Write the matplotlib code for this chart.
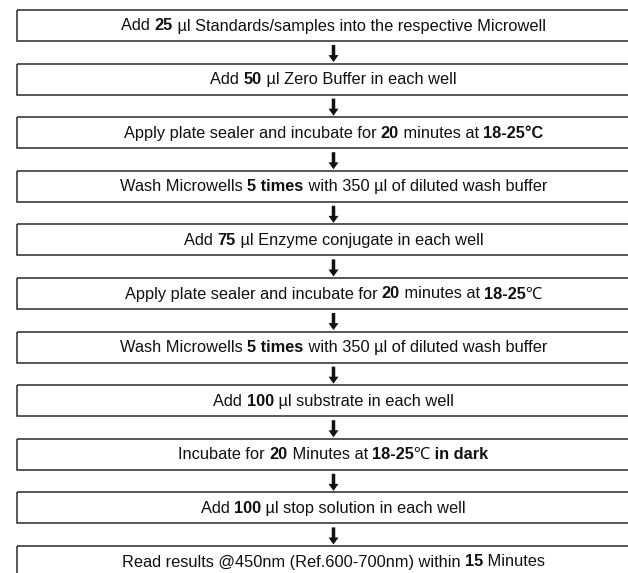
import matplotlib.pyplot as plt
from matplotlib.patches import Rectangle

# protocol steps, each one a list of (text, is_bold) pieces
steps = [
    [("Add ", False), ("25", True), (" µl Standards/samples into the respective Microwell", False)],
    [("Add ", False), ("50", True), (" µl Zero Buffer in each well", False)],
    [("Apply plate sealer and incubate for ", False), ("20", True), (" minutes at ", False), ("18-25°C", True)],
    [("Wash Microwells ", False), ("5 times", True), (" with 350 µl of diluted wash buffer", False)],
    [("Add ", False), ("75", True), (" µl Enzyme conjugate in each well", False)],
    [("Apply plate sealer and incubate for ", False), ("20", True), (" minutes at ", False), ("18-25℃", True)],
    [("Wash Microwells ", False), ("5 times", True), (" with 350 µl of diluted wash buffer", False)],
    [("Add ", False), ("100", True), (" µl substrate in each well", False)],
    [("Incubate for ", False), ("20", True), (" Minutes at ", False), ("18-25℃ in dark", True)],
    [("Add ", False), ("100", True), (" µl stop solution in each well", False)],
    [("Read results @450nm (Ref.600-700nm) within ", False), ("15", True), (" Minutes", False)],
]

W, H = 628, 573
fig = plt.figure(figsize=(W / 100, H / 100), dpi=100)
ax = fig.add_axes([0, 0, 1, 1])
ax.set_xlim(0, W)
ax.set_ylim(H, 0)
ax.axis("off")

fonts = ["Liberation Sans", "Noto Sans", "DejaVu Sans"]
left, right = 17, 650
top0, pitch, box_h = 10, 53.6, 31
cx = (left + right) / 2

fig.canvas.draw()
renderer = fig.canvas.get_renderer()

for i, pieces in enumerate(steps):
    y0 = top0 + i * pitch
    ax.add_patch(Rectangle((left, y0), right - left, box_h, fill=False,
                           edgecolor="#2a2a2a", lw=1.1))
    yc = y0 + box_h / 2 + 0.5
    # draw the pieces, then shift them so the whole line is centred
    texts, widths = [], []
    for s, bold in pieces:
        t = ax.text(0, yc, s, family=fonts, fontsize=11.8,
                    weight="bold" if bold else "normal",
                    ha="left", va="center", color="#111111")
        bb = t.get_window_extent(renderer)
        texts.append(t)
        widths.append(bb.width)
    total = sum(widths)
    x = cx - total / 2
    for t, w in zip(texts, widths):
        t.set_x(x)
        x += w
    # arrow to the next box
    if i < len(steps) - 1:
        ya = y0 + box_h + 4
        yb = top0 + (i + 1) * pitch - 1.5
        ax.arrow(cx, ya, 0, yb - ya, width=3.5, head_width=10, head_length=7,
                 length_includes_head=True, color="#111111", lw=0)

fig.savefig("out.png", dpi=100)
